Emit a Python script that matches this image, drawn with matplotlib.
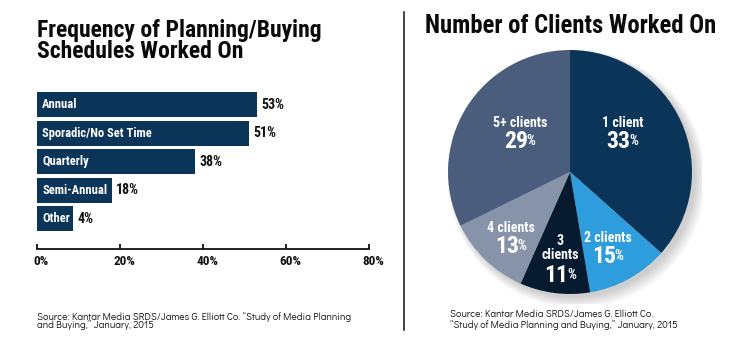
import matplotlib
matplotlib.use("Agg")
import matplotlib.pyplot as plt
from matplotlib.transforms import ScaledTranslation
from matplotlib.patches import Circle
from matplotlib.lines import Line2D
from matplotlib import font_manager as fm

# ---------------- data ----------------
freq_categories = ["Annual", "Sporadic/No Set Time", "Quarterly", "Semi-Annual", "Other"]
freq_values = [53, 51, 38, 18, 4]                 # labelled values (%)
freq_bar_drawn = [53, 51, 38, 18, 8.7]            # bar lengths as drawn in the picture (%)
freq_ticks = [0, 20, 40, 60, 80]
freq_tick_labels = ["0%", "20%", "40%", "60%", "80%"]

client_labels = ["1 client", "2 clients", "3\nclients", "4 clients", "5+ clients"]
client_values = [33, 15, 11, 13, 29]              # labelled values (%)
client_wedges_drawn = [36.6, 10.8, 9.3, 11.1, 32.3]  # wedge shares as drawn in the picture
client_colors = ["#0b3558", "#2e9ddd", "#061a30", "#8793a9", "#4a5d7d"]

title_left = ["Frequency of Planning/Buying", "Schedules Worked On"]
title_right = "Number of Clients Worked On"
source_left = ["Source: Kantar Media SRDS/James G. Elliott Co. \u201cStudy of Media Planning",
               "and Buying,\u201d January, 2015"]
source_right = ["Source: Kantar Media SRDS/James G. Elliott Co.",
                "\u201cStudy of Media Planning and Buying,\u201d January, 2015"]

# ---------------- fonts ----------------
installed = {f.name for f in fm.fontManager.ttflist}


def pick(cands):
    for c in cands:
        if c in installed:
            return [c, "DejaVu Sans"]
    return ["DejaVu Sans"]


COND = pick(["Roboto Condensed", "Oswald", "Archivo Narrow", "PT Sans Narrow", "Liberation Sans Narrow"])
SRC = pick(["Didact Gothic", "Questrial", "Poppins", "Lato"])

W, H = 745, 345
BAR_COLOR = "#0b3558"
INK = "#0a0a0a"

fig = plt.figure(figsize=(W / 100, H / 100), dpi=100)
fig.patch.set_facecolor("white")


def fx(px):
    return px / W


def fy(py):
    return 1 - py / H


def axes_px(left, top, right, bottom):
    return fig.add_axes([fx(left), fy(bottom), (right - left) / W, (bottom - top) / H])


# ---------------- left: bar chart ----------------
ax = axes_px(37.3, 90, 369.3, 249)
pos = list(range(len(freq_categories)))
ax.barh(pos, freq_bar_drawn, height=0.875, color=BAR_COLOR, zorder=2)
ax.set_xlim(0, 80)
ax.set_ylim(5.06, -0.51)
for s in ["top", "right", "left"]:
    ax.spines[s].set_visible(False)
ax.spines["bottom"].set_linewidth(1.3)
ax.spines["bottom"].set_color("#111111")
ax.set_yticks([])
ax.set_xticks(freq_ticks)
ax.set_xticklabels(freq_tick_labels, family=COND, fontweight="bold", fontsize=9.5, color="#111111")
ax.tick_params(axis="x", direction="in", length=3.5, width=1.3, pad=4, color="#111111")
for lab in ax.get_xticklabels():
    lab.set_transform(lab.get_transform() + ScaledTranslation(4 / 100, 0, fig.dpi_scale_trans))
ax.patch.set_alpha(0)

inside_off = ScaledTranslation(5 / 100, 0, fig.dpi_scale_trans)
outside_off = ScaledTranslation(4 / 100, 0, fig.dpi_scale_trans)
for i, (cat, val, drawn) in enumerate(zip(freq_categories, freq_values, freq_bar_drawn)):
    ax.text(0, i, cat, transform=ax.transData + inside_off, ha="left", va="center",
            color="white", family=COND, fontweight="bold", fontsize=9)
    ax.text(drawn, i, f"{val}%", transform=ax.transData + outside_off, ha="left", va="center",
            color="#111111", family=COND, fontweight="bold", fontsize=10)

for line, base in zip(title_left, [37, 58]):
    fig.text(fx(37), fy(base), line, ha="left", va="baseline", family=COND,
             fontweight="bold", fontsize=17, color=INK)
for line, base in zip(source_left, [319.5, 328.5]):
    fig.text(fx(37), fy(base), line, ha="left", va="baseline", family=SRC,
             fontsize=7.3, color="#111111")

# divider
fig.add_artist(Line2D([fx(404), fx(404)], [fy(12), fy(330)], color="#111111", lw=1.1))

# ---------------- right: pie ----------------
cx, cy, r = 570, 172, 122
pax = axes_px(cx - r * 1.08, cy - r * 1.08, cx + r * 1.08, cy + r * 1.08)
pax.set_aspect("equal")
pax.axis("off")
for k in range(8):
    pax.add_patch(Circle((0.03 + 0.004 * k, -0.03 - 0.004 * k), 1.0 + 0.008 * k,
                         color="#000000", alpha=0.025, lw=0, zorder=0))
pax.pie(client_wedges_drawn, colors=client_colors, startangle=90, counterclock=False,
        radius=1.0, wedgeprops=dict(linewidth=0, zorder=1))
pax.set_xlim(-1.08, 1.08)
pax.set_ylim(-1.08, 1.08)

# label anchors (pie units): name centre; percent baseline drop below it
label_pos = [(0.43, 0.40), (0.31, -0.54), (-0.08, -0.625), (-0.485, -0.46), (-0.41, 0.40)]
name_gap = [0.207, 0.207, 0.28, 0.207, 0.207]
for (lx, ly), gap, name, val in zip(label_pos, name_gap, client_labels, client_values):
    pax.text(lx, ly, name, ha="center", va="center", color="white", family=COND,
             fontweight="bold", fontsize=10, linespacing=1.0, zorder=5)
    py = ly - gap
    pax.text(lx + 0.065, py, f"{val}", ha="right", va="baseline", color="white",
             family=COND, fontweight="bold", fontsize=17, zorder=5)
    pax.text(lx + 0.055, py + 0.027, "%", ha="left", va="baseline", color="white",
             family=COND, fontweight="bold", fontsize=10, zorder=5)

fig.text(fx(425), fy(33), title_right, ha="left", va="baseline", family=COND,
         fontweight="bold", fontsize=17.7, color=INK)
for line, base in zip(source_right, [317, 327.5]):
    fig.text(fx(450), fy(base), line, ha="left", va="baseline", family=SRC,
             fontsize=7.3, color="#111111")

fig.savefig("out.png", dpi=100, facecolor="white")
